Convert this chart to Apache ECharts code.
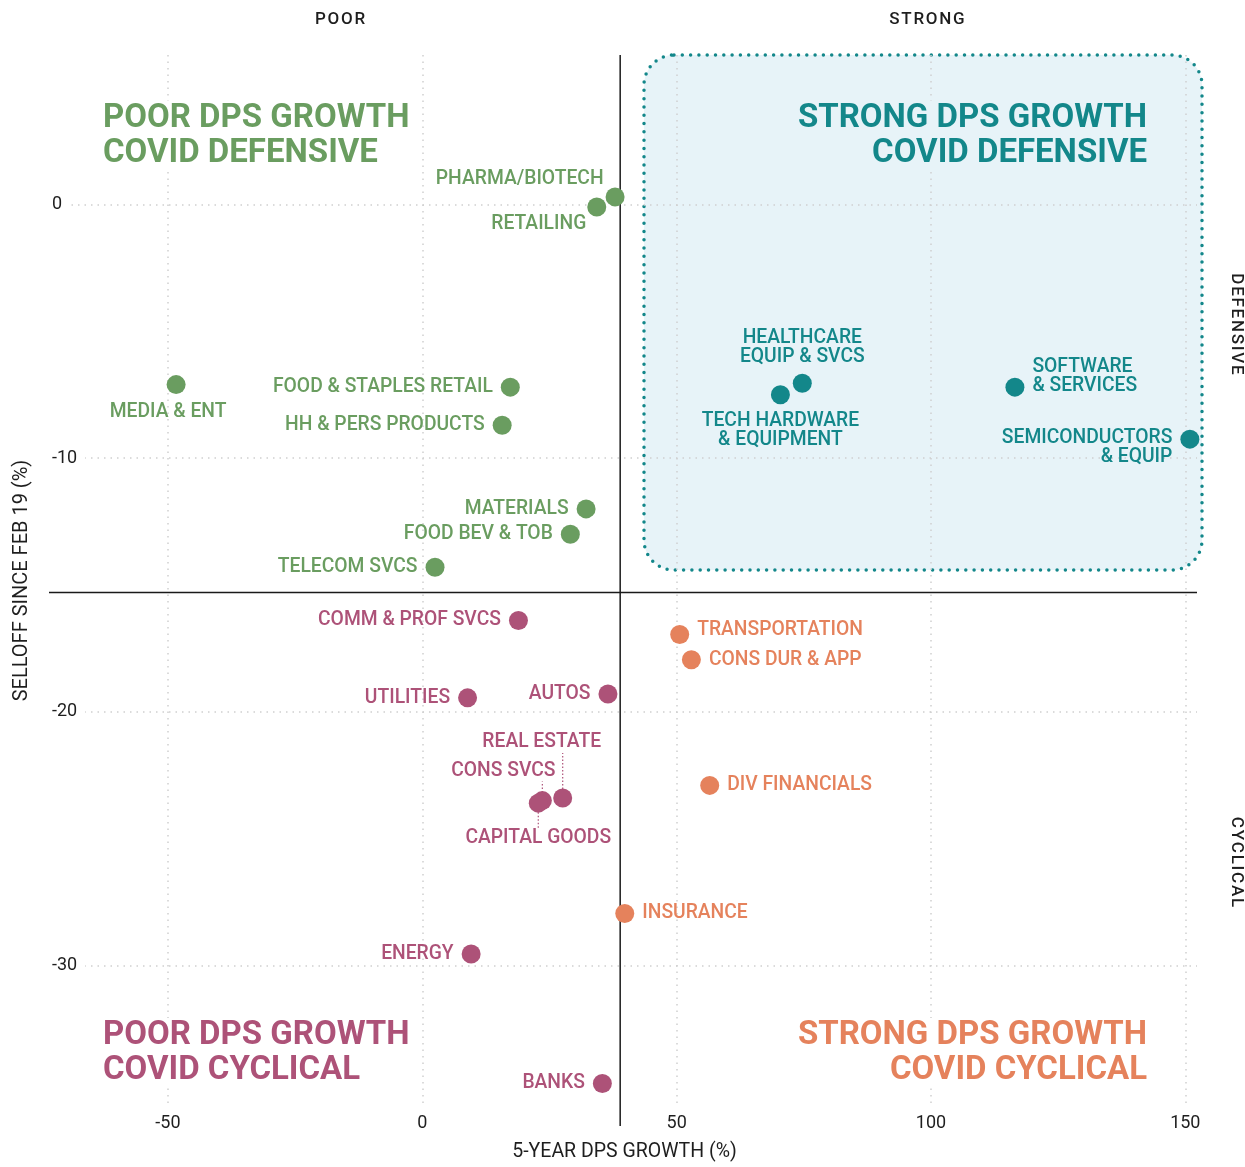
<!DOCTYPE html>
<html><head><meta charset="utf-8">
<script src="https://cdn.jsdelivr.net/npm/echarts@6/dist/echarts.min.js"></script>
<style>html,body{margin:0;padding:0;background:#fff}#c{width:1245px;height:1167px}</style>
</head><body><div id="c"></div>
<script>
// ---------- data ----------
const greenNames = ['PHARMA/BIOTECH','RETAILING','MEDIA & ENT','FOOD & STAPLES RETAIL','HH & PERS PRODUCTS','MATERIALS','FOOD BEV & TOB','TELECOM SVCS'];
const greenX = [37.9, 34.3, -48.4, 17.3, 15.7, 32.2, 29.1, 2.5];
const greenY = [0.3, -0.1, -7.1, -7.2, -8.7, -12.0, -13.0, -14.3];

const tealNames = ['HEALTHCARE\nEQUIP & SVCS','TECH HARDWARE\n& EQUIPMENT','SOFTWARE\n& SERVICES','SEMICONDUCTORS\n& EQUIP'];
const tealX = [74.7, 70.4, 116.5, 150.9];
const tealY = [-7.05, -7.5, -7.2, -9.25];

const pinkNames = ['COMM & PROF SVCS','UTILITIES','AUTOS','REAL ESTATE','CONS SVCS','CAPITAL GOODS','ENERGY','BANKS'];
const pinkX = [18.9, 8.9, 36.5, 27.6, 23.6, 22.8, 9.6, 35.4];
const pinkY = [-16.4, -19.45, -19.3, -23.4, -23.5, -23.6, -29.55, -34.65];

const orangeNames = ['TRANSPORTATION','CONS DUR & APP','DIV FINANCIALS','INSURANCE'];
const orangeX = [50.6, 52.9, 56.5, 39.8];
const orangeY = [-16.95, -17.95, -22.9, -27.95];

const xTicks = [-50, 0, 50, 100, 150];
const yTicks = [0, -10, -20, -30];
const xSplit = 38.9;   // vertical divider (5-year DPS growth)
const ySplit = -15.3;  // horizontal divider (selloff)

const xTitle = '5-YEAR DPS GROWTH (%)';
const yTitle = 'SELLOFF SINCE FEB 19 (%)';

// ---------- styles ----------
const C = {green:'#6a9d60', teal:'#13878a', pink:'#ad5278', orange:'#e5825c', box:'#e7f3f8', ink:'#1e1e1e'};
const FONT = 'Roboto, "Open Sans", sans-serif';
const X_MIN = -72.8, X_MAX = 152.3, Y_MIN = -35.54, Y_MAX = 5.894;

const labelLayout = {
  'PHARMA/BIOTECH': {position:'left', offset:[6,-18]},
  'RETAILING': {position:'left', offset:[7,17]},
  'MEDIA & ENT': {position:'bottom', offset:[-8,1]},
  'HEALTHCARE\nEQUIP & SVCS': {position:'top', distance:7},
  'TECH HARDWARE\n& EQUIPMENT': {position:'bottom', distance:7},
  'SOFTWARE\n& SERVICES': {position:'right', offset:[0,-10]},
  'SEMICONDUCTORS\n& EQUIP': {position:'left', offset:[0,9]},
  'REAL ESTATE': {position:'top', offset:[-21,-29]},
  'CONS SVCS': {position:'top', offset:[-39,-2]},
  'CAPITAL GOODS': {position:'bottom', offset:[0,8]},
  'TRANSPORTATION': {position:'right', offset:[0,-4]}
};
const defaultPos = {green:'left', teal:'left', pink:'left', orange:'right'};

function makeSeries(key, names, xs, ys) {
  return {
    type:'scatter', name:key, symbolSize:19, z:5,
    itemStyle:{color:C[key], opacity:1},
    emphasis:{disabled:true},
    label:{show:true, formatter:'{b}', color:C[key], fontFamily:FONT, fontWeight:500, fontSize:19.3,
           lineHeight:19, distance:8, position:defaultPos[key]},
    data: names.map((n,i)=>({name:n, value:[xs[i], ys[i]], label:Object.assign({}, labelLayout[n]||{})}))
  };
}

const chart = echarts.init(document.getElementById('c'), null, {renderer:'canvas'});
const option = {
  animation:false,
  backgroundColor:'#fff',
  grid:{left:52, right:48, top:55, bottom:54, containLabel:false},
  xAxis:{type:'value', min:X_MIN, max:X_MAX,
    axisLine:{show:false}, axisTick:{show:false},
    axisLabel:{color:C.ink, fontFamily:FONT, fontSize:18, margin:8, showMinLabel:false, showMaxLabel:false,
      formatter:v=> xTicks.includes(v) ? String(v) : ''},
    splitLine:{show:true, showMinLine:false, showMaxLine:false, lineStyle:{color:'#cfcfcf', type:[1.5,5], width:1.5}},
    name:xTitle, nameLocation:'middle', nameGap:36,
    nameTextStyle:{color:C.ink, fontFamily:FONT, fontSize:19.5}
  },
  yAxis:{type:'value', min:Y_MIN, max:Y_MAX,
    axisLine:{show:false}, axisTick:{show:false},
    axisLabel:{inside:true, margin:0, color:C.ink, fontFamily:FONT, fontSize:18, showMinLabel:false, showMaxLabel:false,
      backgroundColor:'#fff', padding:[2,8,2,0],
      formatter:v=> yTicks.includes(v) ? String(v) : ''},
    splitLine:{show:true, showMinLine:false, showMaxLine:false, lineStyle:{color:'#cfcfcf', type:[1.5,5], width:1.5}},
    name:yTitle, nameLocation:'middle', nameGap:20, nameRotate:90,
    nameTextStyle:{color:C.ink, fontFamily:FONT, fontSize:20}
  },
  series:[
    makeSeries('green', greenNames, greenX, greenY),
    makeSeries('teal', tealNames, tealX, tealY),
    makeSeries('pink', pinkNames, pinkX, pinkY),
    makeSeries('orange', orangeNames, orangeX, orangeY)
  ]
};
chart.setOption(option);

// ---------- decorations derived from axis scales ----------
const px = (x,y)=>chart.convertToPixel({gridIndex:0},[x,y]);
const sp = s => s.split('').join('\u200A');
const vx = px(xSplit,0)[0];
const hy = px(0,ySplit)[1];
const gTop = px(0,Y_MAX)[1], gBottom = px(0,Y_MIN)[1];
const gRight = px(X_MAX,0)[0];

const g = [];
// highlight box (strong / defensive)
g.push({type:'rect', z:-10, shape:{x:644, y:gTop, width:558, height:515, r:30},
  style:{fill:C.box, stroke:C.teal, lineWidth:3.5, lineDash:[0,8.3], lineCap:'round'}});
// quadrant dividers
g.push({type:'line', z:3, shape:{x1:vx, y1:gTop, x2:vx, y2:gBottom+20}, style:{stroke:'#1a1a1a', lineWidth:1.5}});
g.push({type:'line', z:3, shape:{x1:49, y1:hy, x2:gRight, y2:hy}, style:{stroke:'#1a1a1a', lineWidth:1.5}});

// leader lines for crowded labels
function lead(names, xs, ys, n, d1, d2) {
  const i = names.indexOf(n);
  const p = px(xs[i], ys[i]);
  g.push({type:'line', z:4, shape:{x1:p[0], y1:p[1]+d1, x2:p[0], y2:p[1]+d2},
    style:{stroke:C.pink, lineWidth:1.2, lineDash:[1.5,2]}});
}
lead(pinkNames, pinkX, pinkY, 'REAL ESTATE', -9, -45);
lead(pinkNames, pinkX, pinkY, 'CONS SVCS', -8, -19);
lead(pinkNames, pinkX, pinkY, 'CAPITAL GOODS', 9, 26);

// quadrant titles
function title(text, x, y, align, color, bg) {
  g.push({type:'text', z:2, x:x, y:y, style:{text:text, textAlign:align, textVerticalAlign:'top',
    font:'bold 33px '+FONT, fill:color, lineHeight:35, backgroundColor:bg}});
}
title('POOR DPS GROWTH\nCOVID DEFENSIVE', 103, 101, 'left', C.green, '#fff');
title('STRONG DPS GROWTH\nCOVID DEFENSIVE', 1147, 101, 'right', C.teal, C.box);
title('POOR DPS GROWTH\nCOVID CYCLICAL', 103, 1018, 'left', C.pink, '#fff');
title('STRONG DPS GROWTH\nCOVID CYCLICAL', 1147, 1018, 'right', C.orange, '#fff');

// side headings
function head(text, x, y, rot) {
  g.push({type:'text', z:2, x:x, y:y, rotation:rot, style:{text:sp(text), textAlign:'center', textVerticalAlign:'middle',
    font:'500 17px '+FONT, fill:C.ink}});
}
head('POOR', 340, 20, 0);
head('STRONG', 927, 20, 0);
head('DEFENSIVE', 1236, 324, -Math.PI/2);
head('CYCLICAL', 1236, 862, -Math.PI/2);

chart.setOption({graphic:{elements:g}});
</script>
</body></html>
